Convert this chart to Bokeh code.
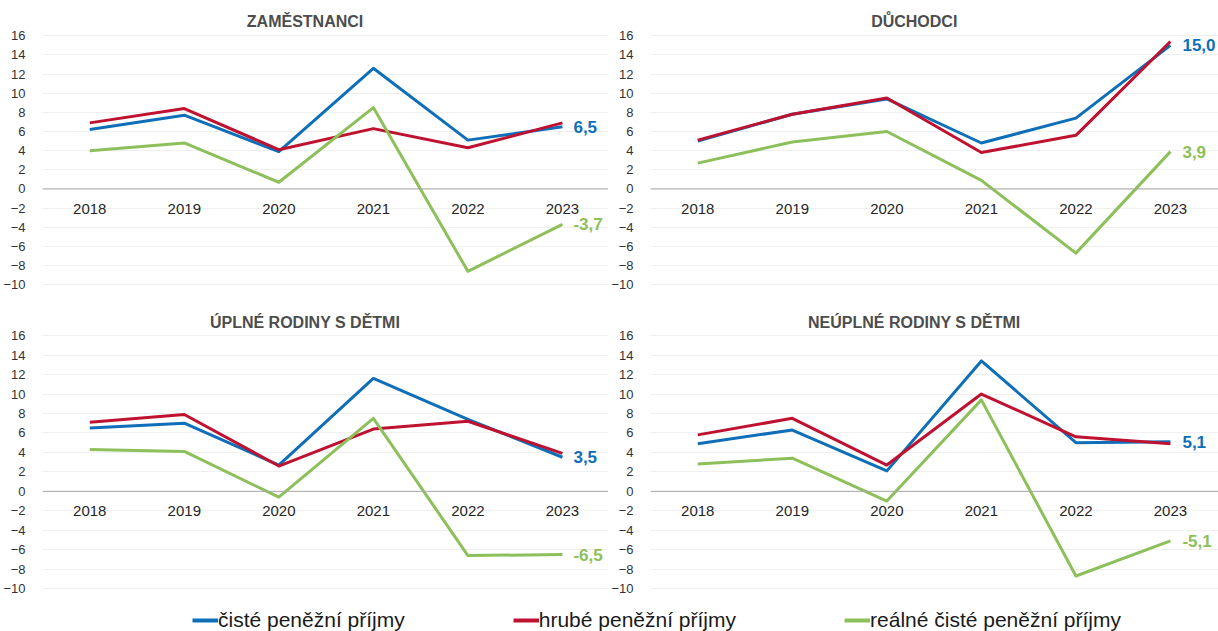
from bokeh.plotting import figure
from bokeh.layouts import column, row
from bokeh.models import Range1d, FixedTicker, Span, Label, Legend, LegendItem
from bokeh.core.properties import value
from bokeh.embed import file_html
from bokeh.resources import INLINE

years = [2018, 2019, 2020, 2021, 2022, 2023]
yticks = [-10, -8, -6, -4, -2, 0, 2, 4, 6, 8, 10, 12, 14, 16]

series_names = ["čisté peněžní příjmy", "hrubé peněžní příjmy", "reálné čisté peněžní příjmy"]

titles = ["ZAMĚSTNANCI", "DŮCHODCI", "ÚPLNÉ RODINY S DĚTMI", "NEÚPLNÉ RODINY S DĚTMI"]

zam_ciste = [6.2, 7.7, 3.9, 12.6, 5.1, 6.5]
zam_hrube = [6.9, 8.4, 4.1, 6.3, 4.3, 6.9]
zam_realne = [4.0, 4.8, 0.7, 8.5, -8.6, -3.7]

duch_ciste = [5.0, 7.8, 9.4, 4.8, 7.4, 15.0]
duch_hrube = [5.1, 7.8, 9.5, 3.8, 5.6, 15.4]
duch_realne = [2.7, 4.9, 6.0, 0.9, -6.7, 3.9]

upl_ciste = [6.5, 7.0, 2.7, 11.6, 7.4, 3.5]
upl_hrube = [7.1, 7.9, 2.6, 6.4, 7.2, 3.9]
upl_realne = [4.3, 4.1, -0.6, 7.5, -6.6, -6.5]

neupl_ciste = [4.9, 6.3, 2.1, 13.4, 5.0, 5.1]
neupl_hrube = [5.8, 7.5, 2.7, 10.0, 5.6, 4.9]
neupl_realne = [2.8, 3.4, -1.0, 9.4, -8.7, -5.1]

BLUE = "#0E6FB8"
RED = "#BF1230"
GREEN = "#8DC05A"
FONT = "Liberation Sans"
PX_YEAR = 94.7


def fmt(v):
    return f"{v:.1f}".replace(".", ",")


def panel(title, ciste, hrube, realne, width, height, left, bottom, y_top,
          title_cx, title_cy, lbl_off):
    frame_w = width - left
    x_end = 2017.5 + frame_w / PX_YEAR
    p = figure(width=width, height=height, output_backend="svg", toolbar_location=None,
               x_range=Range1d(2017.5, x_end), y_range=Range1d(-10.5, y_top),
               x_axis_location=None, min_border_left=left, min_border_right=0,
               min_border_top=0, min_border_bottom=bottom, tools="")
    p.outline_line_color = None
    p.background_fill_color = "white"
    p.xgrid.visible = False
    p.ygrid.ticker = FixedTicker(ticks=yticks)
    p.ygrid.grid_line_color = "#EFEFEF"
    p.ygrid.grid_line_width = 1
    ax = p.yaxis[0]
    ax.ticker = FixedTicker(ticks=yticks)
    ax.axis_line_color = None
    ax.major_tick_line_color = None
    ax.minor_tick_line_color = None
    ax.major_label_standoff = 11
    ax.major_label_text_font = FONT
    ax.major_label_text_font_size = "13px"
    ax.major_label_text_color = "#333333"

    p.add_layout(Span(location=0, dimension="width", line_color="#A6A6A6", line_width=1))

    for vals, col in ((ciste, BLUE), (hrube, RED), (realne, GREEN)):
        p.line(years, vals, line_color=col, line_width=3, line_join="round")

    p.text(x=years, y=[0] * len(years), text=[str(y) for y in years], y_offset=20,
           text_align="center", text_baseline="middle", text_font=value(FONT),
           text_font_size="15px", text_color="#262626")

    for vals, col in ((ciste, BLUE), (realne, GREEN)):
        p.text(x=[years[-1]], y=[vals[-1]], text=[fmt(vals[-1])], x_offset=lbl_off,
               text_align="left", text_baseline="middle", text_font=value(FONT),
               text_font_style="bold", text_font_size="17px", text_color=col)

    p.add_layout(Label(x=title_cx, y=title_cy, text=title, text_align="center",
                       text_baseline="middle", text_font=FONT, text_font_style="bold",
                       text_font_size="16px", text_color="#4D4D4D"))
    return p


f1 = panel(titles[0], zam_ciste, zam_hrube, zam_realne, 608, 300, 41, 11,
           19.68, 2020.277, 17.46, 11)
f2 = panel(titles[1], duch_ciste, duch_hrube, duch_realne, 610, 300, 41, 11,
           19.68, 2020.29, 17.46, 12)
f3 = panel(titles[2], upl_ciste, upl_hrube, upl_realne, 608, 300, 41, 7,
           19.61, 2020.277, 17.34, 11)
f4 = panel(titles[3], neupl_ciste, neupl_hrube, neupl_realne, 610, 300, 41, 7,
           19.61, 2020.29, 17.34, 12)

f5 = figure(width=1218, height=31, output_backend="svg", toolbar_location=None,
            x_range=Range1d(0, 1), y_range=Range1d(0, 1), x_axis_location=None,
            y_axis_location=None, min_border=0, tools="")
f5.outline_line_color = None
f5.grid.visible = False
items = []
for name, col, vals in zip(series_names, (BLUE, RED, GREEN), (zam_ciste, zam_hrube, zam_realne)):
    r = f5.line(x=years, y=vals, line_color=col, line_width=4)
    items.append(LegendItem(label=name, renderers=[r]))
leg = Legend(items=items, orientation="horizontal", location=(192, -1), spacing=108,
             glyph_width=26, glyph_height=20, label_standoff=0, padding=0, margin=0,
             border_line_color=None, background_fill_alpha=0,
             label_text_font=FONT, label_text_font_size="21px", label_text_color="#1A1A1A")
f5.add_layout(leg, "center")

layout = column(row(f1, f2), row(f3, f4), f5)

open("out.html", "w").write(file_html(layout, INLINE))
